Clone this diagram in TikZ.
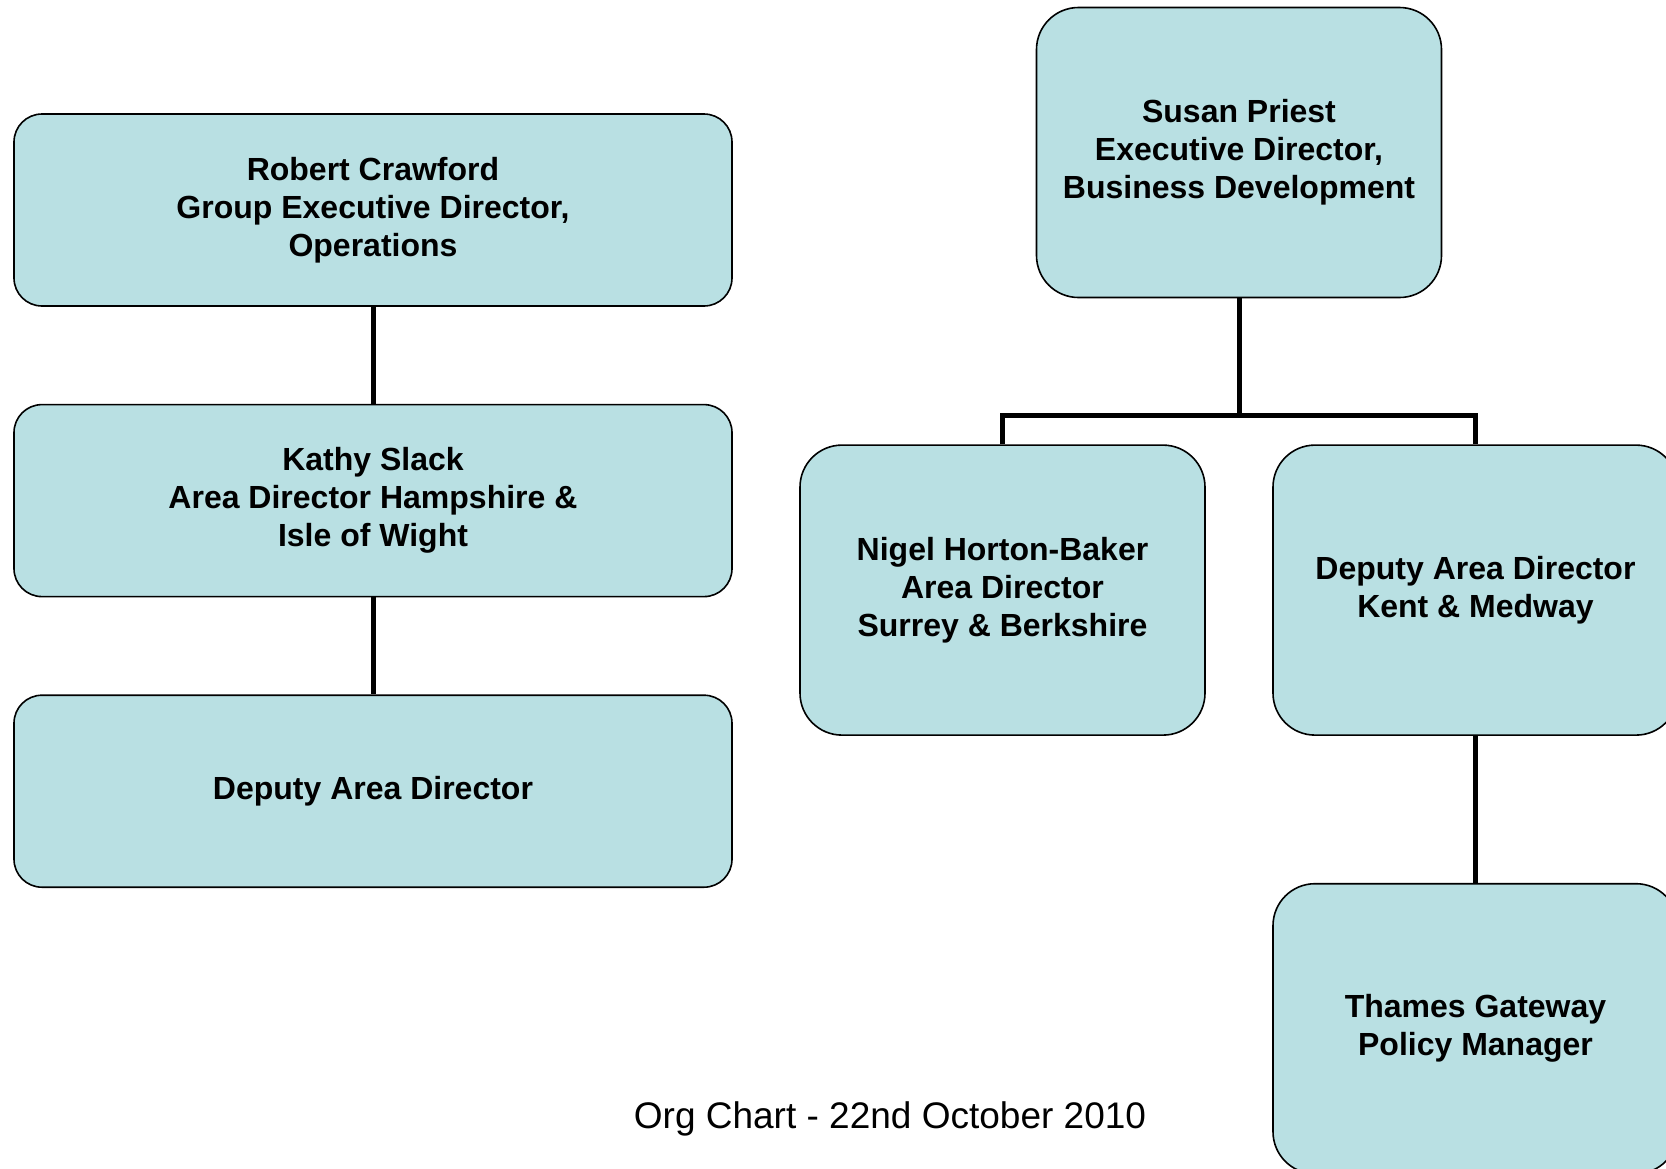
\documentclass[tikz,border=0pt]{standalone}
\usepackage{fontspec}
\setmainfont{Liberation Sans}
\usepackage{tikz}
\usetikzlibrary{positioning}
\definecolor{boxfill}{RGB}{185,224,227}
\tikzstyle{role} = [draw, rectangle, rounded corners=28pt, fill=boxfill, line width=1.6pt, minimum width=718pt, minimum height=192pt, inner sep=0pt, align=center, font=\fontsize{32}{38}\selectfont\bfseries]
\tikzstyle{tallrole} = [role, rounded corners=42pt, minimum width=405pt, minimum height=290pt]
\tikzstyle{caption} = [font=\fontsize{37}{44}\selectfont, anchor=base]
\tikzstyle{link} = [line width=5pt]

\begin{document}
\begin{tikzpicture}[x=1pt, y=-1pt]
	\useasboundingbox (0,0) rectangle (1666,1168);
	\clip (0,0) rectangle (1666,1168);
	\node (crawford) [role] at (373,210) {Robert Crawford\\Group Executive Director,\\Operations};
	\node (slack) [role, below=97pt of crawford] {Kathy Slack\\Area Director Hampshire \&\\Isle of Wight};
	\node (deputy) [role, below=97pt of slack] {Deputy Area Director};
	\node (priest) [tallrole] at (1239,152.5) {Susan Priest\\Executive Director,\\Business Development};
	\node (horton) [tallrole, below=146pt of priest, xshift=-236.5pt] {Nigel Horton-Baker\\Area Director\\Surrey \& Berkshire};
	\node (kent) [tallrole, below=146pt of priest, xshift=236.5pt] {Deputy Area Director\\Kent \& Medway};
	\node (thames) [tallrole, below=147pt of kent] {Thames Gateway\\Policy Manager};
	\node (title) [caption] at (890,1128) {Org Chart - 22nd October 2010};
	\coordinate (bus) at (1239,415.5);
	\draw [link] (crawford.south) -- (slack.north);
	\draw [link] (slack.south) -- (deputy.north);
	\draw [link] (priest.south) -- (bus);
	\draw [link] (horton.north) |- (bus) -| (kent.north);
	\draw [link] (kent.south) -- (thames.north);
\end{tikzpicture}
\end{document}
